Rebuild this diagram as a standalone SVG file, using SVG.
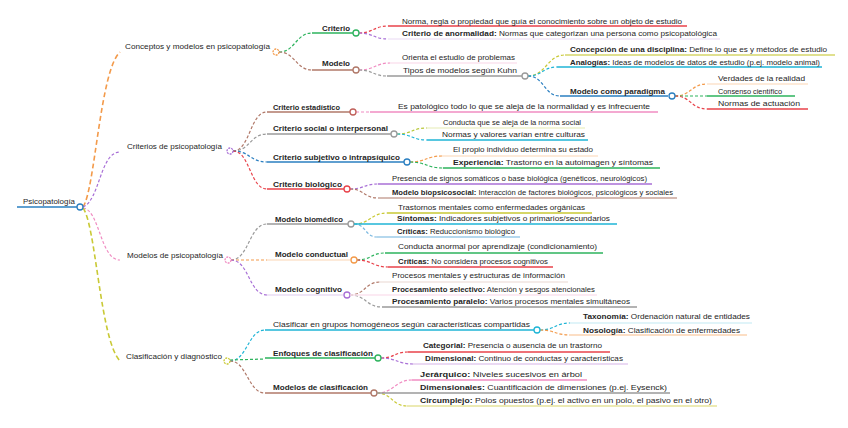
<svg xmlns="http://www.w3.org/2000/svg" width="848" height="428" viewBox="0 0 848 428">
<style>
text{font-family:"Liberation Sans",Arial,sans-serif;fill:#262626}
.r{font-size:8px}
.l1{font-size:8px}
.l2{font-size:8px;font-weight:bold}
.lf{font-size:7.5px}
.b{font-weight:bold}
.u{stroke-width:1.5;fill:none}
.c{fill:none;stroke-width:1.2;stroke-dasharray:3 2}
.cw{fill:none;stroke-width:1.6;stroke-dasharray:5 3}
.n{fill:#fff;stroke-width:1.3}
.nd{fill:#fff;stroke-width:1.3;stroke-dasharray:2 1}
</style>
<rect width="848" height="428" fill="#fff"/>
<g id="connectors">
<path class="cw" stroke="#f39a4a" d="M83,207 C95,190 100,70 120,52"/>
<path class="c" stroke="#a86fd6" stroke-dasharray="1.5 1.5" d="M83,207 C100,200 100,152 120,152"/>
<path class="c" stroke="#f08cc2" stroke-dasharray="1.5 1.5" d="M83,208 C100,210 100,260 120,260"/>
<path class="cw" stroke="#c9c935" d="M83,208 C96,225 100,340 120,361"/>
<path class="c" stroke="#2db35d" d="M279,52 C295,52 296,33 312,33"/>
<path class="c" stroke="#b07868" d="M279,52 C295,52 296,70 312,70"/>
<path class="c" stroke="#e8424a" d="M359,33 C373,33 374,26 388,26"/>
<path class="c" stroke="#a86fd6" d="M359,33 C373,33 374,39 388,39"/>
<path class="c" stroke="#f08cc2" d="M359,70 C375,70 375,63 390,63"/>
<path class="c" stroke="#9a9a9a" d="M359,70 C373,70 373,76 387,76"/>
<path class="c" stroke="#c9c935" d="M528,76 C546,76 547,55 565,55"/>
<path class="c" stroke="#1fb5d6" d="M528,76 C542,76 543,67 557,67"/>
<path class="c" stroke="#2a7fc1" d="M528,76 C544,76 544,96 560,96"/>
<path class="c" stroke="#f39a4a" d="M675,96 C691,96 691,84 707,84"/>
<path class="c" stroke="#2db35d" stroke-dasharray="none" d="M675,96 L707,96"/>
<path class="c" stroke="#e8424a" d="M675,96 C691,96 691,109 707,109"/>
<path class="c" stroke="#b07868" d="M233,151 C250,151 250,112 267,112"/>
<path class="c" stroke="#9a9a9a" d="M233,151 C250,151 250,134 267,134"/>
<path class="c" stroke="#2a7fc1" d="M233,151 C250,151 250,162 267,162"/>
<path class="c" stroke="#e8424a" d="M233,151 C250,151 250,189 267,189"/>
<path class="c" stroke="#f08cc2" stroke-dasharray="none" d="M356,112 L370,112"/>
<path class="c" stroke="#b8c83a" d="M397,134 C412,134 412,128 427,128"/>
<path class="c" stroke="#1fb5d6" d="M397,134 C412,134 412,140 427,140"/>
<path class="c" stroke="#f39a4a" d="M410,162 C426,162 426,156 442,156"/>
<path class="c" stroke="#2db35d" d="M410,162 C426,162 427,168 443,168"/>
<path class="c" stroke="#a86fd6" d="M350,189 C364,189 364,184 378,184"/>
<path class="c" stroke="#b07868" d="M350,189 C364,189 364,198 378,198"/>
<path class="c" stroke="#9a9a9a" d="M231,260 C249,260 249,224 267,224"/>
<path class="c" stroke="#f39a4a" d="M231,260 L267,260"/>
<path class="c" stroke="#a86fd6" d="M231,260 C249,260 249,295 267,295"/>
<path class="c" stroke="#c9c935" d="M354,224 C370,224 371,213 387,213"/>
<path class="c" stroke="#7ab8e0" d="M354,224 C366,224 365,237 377,237"/>
<path class="c" stroke="#2db35d" d="M357,260 C371,260 371,253 385,253"/>
<path class="c" stroke="#e8424a" d="M357,260 C372,260 373,267 388,267"/>
<path class="c" stroke="#b07868" d="M350,295 C365,295 365,282 380,282"/>
<path class="c" stroke="#9a9a9a" d="M350,295 C366,295 366,307 382,307"/>
<path class="c" stroke="#1fb5d6" d="M230,361 C247,361 248,330 265,330"/>
<path class="c" stroke="#2db35d" d="M230,360 L265,359"/>
<path class="c" stroke="#b07868" d="M230,361 C247,361 248,393 265,393"/>
<path class="c" stroke="#1fb5d6" d="M540,330 C555,330 555,323 570,323"/>
<path class="c" stroke="#f39a4a" d="M540,330 C555,330 555,335 570,335"/>
<path class="c" stroke="#e8424a" d="M381,358 C395,358 394,352 408,352"/>
<path class="c" stroke="#a86fd6" d="M381,358 C397,358 397,364 413,364"/>
<path class="c" stroke="#f08cc2" d="M377,393 C394,393 395,380 412,380"/>
<path class="c" stroke="#c9c935" d="M377,393 C392,393 392,406 407,406"/>
</g>
<g id="root">
<line class="u" stroke="#2a7fc1" stroke-width="2" x1="17" y1="207" x2="77" y2="207"/>
<text class="r" x="23" y="204" textLength="52" lengthAdjust="spacingAndGlyphs">Psicopatología</text>
<circle class="n" stroke="#2a7fc1" cx="80" cy="207" r="3"/>
</g>
<g id="n-conceptos">
<text class="l1" x="125" y="49" textLength="145" lengthAdjust="spacingAndGlyphs">Conceptos y modelos en psicopatología</text>
<circle class="nd" stroke="#f39a4a" cx="276" cy="52" r="3"/>
</g>
<g id="n-criterio">
<line class="u" stroke="#2db35d" x1="312" y1="33" x2="353" y2="33"/>
<text class="l2" x="322" y="31" textLength="28" lengthAdjust="spacingAndGlyphs">Criterio</text>
<circle class="n" stroke="#2db35d" cx="356" cy="33" r="3"/>
</g>
<g id="n-norma">
<line class="u" stroke="#e8424a" x1="388" y1="26" x2="687" y2="26"/>
<text class="lf" x="402" y="24" textLength="280" lengthAdjust="spacingAndGlyphs">Norma, regla o propiedad que guía el conocimiento sobre un objeto de estudio</text>
</g>
<g id="n-anormalidad">
<line class="u" stroke="#f1e6f7" x1="388" y1="39" x2="720" y2="39"/>
<text class="lf" x="402" y="36" textLength="315" lengthAdjust="spacingAndGlyphs"><tspan class="b">Criterio de anormalidad:</tspan> Normas que categorizan una persona como psicopatológica</text>
</g>
<g id="n-modelo">
<line class="u" stroke="#b07868" x1="312" y1="70" x2="353" y2="70"/>
<text class="l2" x="322" y="66" textLength="28" lengthAdjust="spacingAndGlyphs">Modelo</text>
<circle class="n" stroke="#b07868" cx="356" cy="70" r="3"/>
</g>
<g id="n-orienta">
<line class="u" stroke="#fbe3ef" x1="390" y1="63" x2="517" y2="63"/>
<text class="lf" x="402" y="60" textLength="113" lengthAdjust="spacingAndGlyphs">Orienta el estudio de problemas</text>
</g>
<g id="n-kuhn">
<line class="u" stroke="#9a9a9a" x1="387" y1="76" x2="522" y2="76"/>
<text class="lf" x="403" y="73" textLength="114" lengthAdjust="spacingAndGlyphs">Tipos de modelos según Kuhn</text>
<circle class="n" stroke="#9a9a9a" cx="525" cy="76" r="3"/>
</g>
<g id="n-concepcion">
<line class="u" stroke="#d6d66a" x1="565" y1="55" x2="835" y2="55"/>
<text class="lf" x="570" y="52" textLength="257" lengthAdjust="spacingAndGlyphs"><tspan class="b">Concepción de una disciplina:</tspan> Define lo que es y métodos de estudio</text>
</g>
<g id="n-analogias">
<line class="u" stroke="#1fb5d6" x1="557" y1="67" x2="822" y2="67"/>
<text class="lf" x="570" y="65" textLength="250" lengthAdjust="spacingAndGlyphs"><tspan class="b">Analogías:</tspan> Ideas de modelos de datos de estudio (p.ej. modelo animal)</text>
</g>
<g id="n-paradigma">
<line class="u" stroke="#2a7fc1" x1="560" y1="96" x2="668" y2="96"/>
<text class="l2" x="570" y="94" textLength="95" lengthAdjust="spacingAndGlyphs">Modelo como paradigma</text>
<circle class="n" stroke="#2a7fc1" cx="672" cy="96" r="3"/>
</g>
<g id="n-verdades">
<line class="u" stroke="#fde3cc" x1="707" y1="84" x2="808" y2="84"/>
<text class="lf" x="718" y="81" textLength="87" lengthAdjust="spacingAndGlyphs">Verdades de la realidad</text>
</g>
<g id="n-consenso">
<line class="u" stroke="#2db35d" x1="707" y1="96" x2="795" y2="96"/>
<text class="lf" x="718" y="94" textLength="64" lengthAdjust="spacingAndGlyphs">Consenso científico</text>
</g>
<g id="n-normas">
<line class="u" stroke="#e8424a" x1="707" y1="109" x2="808" y2="109"/>
<text class="lf" x="718" y="106" textLength="82" lengthAdjust="spacingAndGlyphs">Normas de actuación</text>
</g>
<g id="n-criterios">
<text class="l1" x="127" y="149" textLength="95" lengthAdjust="spacingAndGlyphs">Criterios de psicopatología</text>
<circle class="nd" stroke="#a86fd6" cx="230" cy="151" r="3"/>
</g>
<g id="n-estadistico">
<line class="u" stroke="#b07868" x1="267" y1="112" x2="350" y2="112"/>
<text class="l2" x="273" y="110" textLength="67" lengthAdjust="spacingAndGlyphs">Criterio estadístico</text>
<circle class="n" stroke="#c0605a" cx="353" cy="112" r="3"/>
</g>
<g id="n-patologico">
<line class="u" stroke="#f08cc2" x1="370" y1="112" x2="658" y2="112"/>
<text class="lf" x="398" y="109" textLength="252" lengthAdjust="spacingAndGlyphs">Es patológico todo lo que se aleja de la normalidad y es infrecuente</text>
</g>
<g id="n-social">
<line class="u" stroke="#9a9a9a" x1="267" y1="134" x2="391" y2="134"/>
<text class="l2" x="273" y="131" textLength="115" lengthAdjust="spacingAndGlyphs">Criterio social o interpersonal</text>
<circle class="n" stroke="#9a9a9a" cx="394" cy="134" r="3"/>
</g>
<g id="n-conducta-social">
<line class="u" stroke="#eef2cc" x1="427" y1="128" x2="585" y2="128"/>
<text class="lf" x="443" y="125" textLength="138" lengthAdjust="spacingAndGlyphs">Conducta que se aleja de la norma social</text>
</g>
<g id="n-valores">
<line class="u" stroke="#1fb5d6" x1="427" y1="140" x2="588" y2="140"/>
<text class="lf" x="442" y="137" textLength="143" lengthAdjust="spacingAndGlyphs">Normas y valores varían entre culturas</text>
</g>
<g id="n-subjetivo">
<line class="u" stroke="#2a7fc1" x1="267" y1="162" x2="404" y2="162"/>
<text class="l2" x="273" y="160" textLength="127" lengthAdjust="spacingAndGlyphs">Criterio subjetivo o intrapsíquico</text>
<circle class="n" stroke="#2a7fc1" cx="407" cy="162" r="3"/>
</g>
<g id="n-propio">
<line class="u" stroke="#fde3cc" x1="442" y1="156" x2="598" y2="156"/>
<text class="lf" x="453" y="152" textLength="140" lengthAdjust="spacingAndGlyphs">El propio individuo determina su estado</text>
</g>
<g id="n-experiencia">
<line class="u" stroke="#2db35d" x1="443" y1="168" x2="660" y2="168"/>
<text class="lf" x="453" y="165" textLength="200" lengthAdjust="spacingAndGlyphs"><tspan class="b">Experiencia:</tspan> Trastorno en la autoimagen y síntomas</text>
</g>
<g id="n-biologico">
<line class="u" stroke="#e8424a" x1="267" y1="189" x2="344" y2="189"/>
<text class="l2" x="273" y="187" textLength="69" lengthAdjust="spacingAndGlyphs">Criterio biológico</text>
<circle class="n" stroke="#e8424a" cx="347" cy="189" r="3"/>
</g>
<g id="n-presencia">
<line class="u" stroke="#a86fd6" x1="378" y1="184" x2="652" y2="184"/>
<text class="lf" x="392" y="181" textLength="255" lengthAdjust="spacingAndGlyphs">Presencia de signos somáticos o base biológica (genéticos, neurológicos)</text>
</g>
<g id="n-biopsicosocial">
<line class="u" stroke="#c9a49a" x1="378" y1="198" x2="677" y2="198"/>
<text class="lf" x="392" y="195" textLength="281" lengthAdjust="spacingAndGlyphs"><tspan class="b">Modelo biopsicosocial:</tspan> Interacción de factores biológicos, psicológicos y sociales</text>
</g>
<g id="n-modelos">
<text class="l1" x="127" y="258" textLength="96" lengthAdjust="spacingAndGlyphs">Modelos de psicopatología</text>
<circle class="nd" stroke="#f08cc2" cx="228" cy="260" r="3"/>
</g>
<g id="n-biomedico">
<line class="u" stroke="#9a9a9a" x1="267" y1="224" x2="348" y2="224"/>
<text class="l2" x="275" y="222" textLength="68" lengthAdjust="spacingAndGlyphs">Modelo biomédico</text>
<circle class="n" stroke="#9a9a9a" cx="351" cy="224" r="3"/>
</g>
<g id="n-trastornos">
<line class="u" stroke="#c9c935" x1="387" y1="213" x2="592" y2="213"/>
<text class="lf" x="398" y="210" textLength="187" lengthAdjust="spacingAndGlyphs">Trastornos mentales como enfermedades orgánicas</text>
</g>
<g id="n-sintomas">
<line class="u" stroke="#1fb5d6" x1="354" y1="224" x2="617" y2="224"/>
<text class="lf" x="397" y="221" textLength="213" lengthAdjust="spacingAndGlyphs"><tspan class="b">Síntomas:</tspan> Indicadores subjetivos o primarios/secundarios</text>
</g>
<g id="n-criticas-bio">
<line class="u" stroke="#9ccbe9" x1="377" y1="237" x2="520" y2="237"/>
<text class="lf" x="397" y="234" textLength="118" lengthAdjust="spacingAndGlyphs"><tspan class="b">Críticas:</tspan> Reduccionismo biológico</text>
</g>
<g id="n-conductual">
<line class="u" stroke="#fde3cc" x1="267" y1="260" x2="351" y2="260"/>
<text class="l2" x="275" y="257" textLength="73" lengthAdjust="spacingAndGlyphs">Modelo conductual</text>
<circle class="n" stroke="#f39a4a" cx="354" cy="260" r="3"/>
</g>
<g id="n-aprendizaje">
<line class="u" stroke="#2db35d" x1="385" y1="253" x2="603" y2="253"/>
<text class="lf" x="398" y="249" textLength="199" lengthAdjust="spacingAndGlyphs">Conducta anormal por aprendizaje (condicionamiento)</text>
</g>
<g id="n-criticas-cond">
<line class="u" stroke="#e8424a" x1="388" y1="267" x2="553" y2="267"/>
<text class="lf" x="398" y="264" textLength="150" lengthAdjust="spacingAndGlyphs"><tspan class="b">Críticas:</tspan> No considera procesos cognitivos</text>
</g>
<g id="n-cognitivo">
<line class="u" stroke="#eadcf4" x1="267" y1="295" x2="344" y2="295"/>
<text class="l2" x="275" y="292" textLength="67" lengthAdjust="spacingAndGlyphs">Modelo cognitivo</text>
<circle class="n" stroke="#a86fd6" cx="347" cy="295" r="3"/>
</g>
<g id="n-procesos">
<line class="u" stroke="#f1e4e0" x1="380" y1="282" x2="568" y2="282"/>
<text class="lf" x="392" y="278" textLength="173" lengthAdjust="spacingAndGlyphs">Procesos mentales y estructuras de información</text>
</g>
<g id="n-selectivo">
<line class="u" stroke="#fbe3ef" x1="350" y1="295" x2="597" y2="295"/>
<text class="lf" x="392" y="292" textLength="203" lengthAdjust="spacingAndGlyphs"><tspan class="b">Procesamiento selectivo:</tspan> Atención y sesgos atencionales</text>
</g>
<g id="n-paralelo">
<line class="u" stroke="#9a9a9a" x1="382" y1="307" x2="637" y2="307"/>
<text class="lf" x="392" y="304" textLength="238" lengthAdjust="spacingAndGlyphs"><tspan class="b">Procesamiento paralelo:</tspan> Varios procesos mentales simultáneos</text>
</g>
<g id="n-clasificacion">
<text class="l1" x="126" y="359" textLength="96" lengthAdjust="spacingAndGlyphs">Clasificación y diagnóstico</text>
<circle class="nd" stroke="#c9c935" cx="227" cy="361" r="3"/>
</g>
<g id="n-clasificar">
<line class="u" stroke="#1fb5d6" x1="265" y1="330" x2="534" y2="330"/>
<text class="lf" x="273" y="327" textLength="257" lengthAdjust="spacingAndGlyphs">Clasificar en grupos homogéneos según características compartidas</text>
<circle class="n" stroke="#1fb5d6" cx="537" cy="330" r="3"/>
</g>
<g id="n-taxonomia">
<line class="u" stroke="#d6f0f7" x1="570" y1="323" x2="752" y2="323"/>
<text class="lf" x="583" y="319" textLength="167" lengthAdjust="spacingAndGlyphs"><tspan class="b">Taxonomía:</tspan> Ordenación natural de entidades</text>
</g>
<g id="n-nosologia">
<line class="u" stroke="#fbd3b0" x1="570" y1="335" x2="747" y2="335"/>
<text class="lf" x="583" y="333" textLength="157" lengthAdjust="spacingAndGlyphs"><tspan class="b">Nosología:</tspan> Clasificación de enfermedades</text>
</g>
<g id="n-enfoques">
<line class="u" stroke="#2db35d" x1="265" y1="358" x2="375" y2="358"/>
<text class="l2" x="273" y="356" textLength="100" lengthAdjust="spacingAndGlyphs">Enfoques de clasificación</text>
<circle class="n" stroke="#2db35d" cx="378" cy="358" r="3"/>
</g>
<g id="n-categorial">
<line class="u" stroke="#e8424a" x1="408" y1="352" x2="610" y2="352"/>
<text class="lf" x="423" y="348" textLength="179" lengthAdjust="spacingAndGlyphs"><tspan class="b">Categorial:</tspan> Presencia o ausencia de un trastorno</text>
</g>
<g id="n-dimensional">
<line class="u" stroke="#e3cdef" x1="413" y1="364" x2="628" y2="364"/>
<text class="lf" x="425" y="361" textLength="198" lengthAdjust="spacingAndGlyphs"><tspan class="b">Dimensional:</tspan> Continuo de conductas y características</text>
</g>
<g id="n-modelos-clas">
<line class="u" stroke="#b07868" x1="265" y1="393" x2="371" y2="393"/>
<text class="l2" x="273" y="390" textLength="95" lengthAdjust="spacingAndGlyphs">Modelos de clasificación</text>
<circle class="n" stroke="#b07868" cx="374" cy="393" r="3"/>
</g>
<g id="n-jerarquico">
<line class="u" stroke="#f08cc2" x1="412" y1="380" x2="587" y2="380"/>
<text class="lf" x="420" y="377" textLength="162" lengthAdjust="spacingAndGlyphs"><tspan class="b">Jerárquico:</tspan> Niveles sucesivos en árbol</text>
</g>
<g id="n-dimensionales">
<line class="u" stroke="#9a9a9a" x1="377" y1="393" x2="670" y2="393"/>
<text class="lf" x="420" y="390" textLength="247" lengthAdjust="spacingAndGlyphs"><tspan class="b">Dimensionales:</tspan> Cuantificación de dimensiones (p.ej. Eysenck)</text>
</g>
<g id="n-circumplejo">
<line class="u" stroke="#e6e39a" x1="407" y1="406" x2="717" y2="406"/>
<text class="lf" x="420" y="403" textLength="292" lengthAdjust="spacingAndGlyphs"><tspan class="b">Circumplejo:</tspan> Polos opuestos (p.ej. el activo en un polo, el pasivo en el otro)</text>
</g>
</svg>
